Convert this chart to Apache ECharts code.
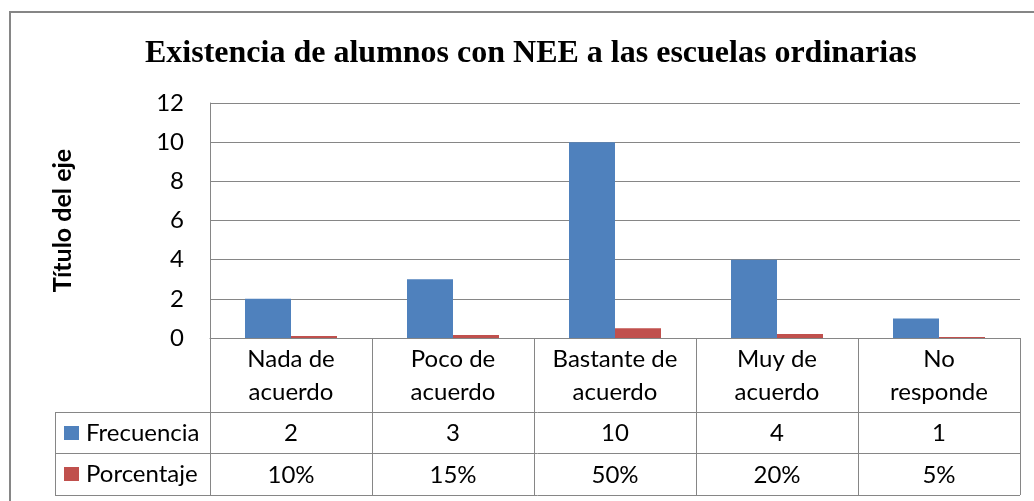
<!DOCTYPE html>
<html>
<head>
<meta charset="utf-8">
<script src="https://cdn.jsdelivr.net/npm/echarts@6/dist/echarts.min.js"></script>
<style>
    html, body {margin: 0; padding: 0; background: #fff;}
    #chart {width: 1034px; height: 501px;}
</style>
</head>
<body>
<div id="chart"></div>
<script>
var categories = ['Nada de\nacuerdo', 'Poco de\nacuerdo', 'Bastante de\nacuerdo', 'Muy de\nacuerdo', 'No\nresponde'];
var frecuencia = [2, 3, 10, 4, 1];
var porcentaje = [0.10, 0.15, 0.50, 0.20, 0.05];
var yTicks = [0, 2, 4, 6, 8, 10, 12];

var FONT = 'Lato';
var GRAY = '#868686';

// layout of plot + data table
var plotLeft = 210, plotRight = 1020, plotTop = 103, plotBottom = 338;
var tableLeft = 55, row1 = 412, row2 = 453, row3 = 495;

var myChart = echarts.init(document.getElementById('chart'));

function pct(v) {
    return Math.round(v * 100) + '%';
}

var option = {
    animation: false,
    backgroundColor: '#fff',
    title: {
        text: 'Existencia de alumnos con NEE a las escuelas ordinarias',
        left: 140,
        top: 33,
        textStyle: {fontFamily: 'Liberation Serif', fontWeight: 'bold', fontSize: 32, color: '#000'}
    },
    legend: {
        orient: 'vertical',
        left: 59,
        top: 416,
        itemWidth: 15,
        itemHeight: 14,
        itemGap: 17,
        icon: 'rect',
        selectedMode: false,
        textStyle: {fontFamily: FONT, fontSize: 24, color: '#000', padding: [0, 0, 0, 2]},
        data: ['Frecuencia', 'Porcentaje']
    },
    grid: {
        left: plotLeft,
        right: 1034 - plotRight,
        top: plotTop,
        bottom: 501 - plotBottom
    },
    xAxis: [
        {
            type: 'category',
            data: categories,
            axisLine: {lineStyle: {color: GRAY, width: 1}},
            axisTick: {show: true, length: row3 - plotBottom, lineStyle: {color: GRAY}},
            axisLabel: {
                interval: 0, margin: 5, lineHeight: 33,
                fontFamily: FONT, fontSize: 24, color: '#000'
            }
        },
        {
            type: 'category',
            data: categories,
            position: 'bottom',
            offset: row1 - plotBottom,
            axisLine: {show: false},
            axisTick: {show: false},
            axisLabel: {
                interval: 0, margin: 21, verticalAlign: 'middle',
                fontFamily: FONT, fontSize: 24, color: '#000',
                formatter: function (v, i) { return String(frecuencia[i]); }
            }
        },
        {
            type: 'category',
            data: categories,
            position: 'bottom',
            offset: row2 - plotBottom,
            axisLine: {show: false},
            axisTick: {show: false},
            axisLabel: {
                interval: 0, margin: 22, verticalAlign: 'middle',
                fontFamily: FONT, fontSize: 24, color: '#000',
                formatter: function (v, i) { return pct(porcentaje[i]); }
            }
        }
    ],
    yAxis: {
        type: 'value',
        min: yTicks[0],
        max: yTicks[yTicks.length - 1],
        interval: yTicks[1] - yTicks[0],
        name: 'Título del eje',
        nameLocation: 'middle',
        nameRotate: 90,
        nameGap: 135,
        nameTextStyle: {fontFamily: FONT, fontWeight: 'bold', fontSize: 25, color: '#000'},
        axisLine: {show: true, lineStyle: {color: GRAY}},
        axisTick: {show: false},
        axisLabel: {margin: 26, fontFamily: FONT, fontSize: 24, color: '#000'},
        splitLine: {lineStyle: {color: GRAY}}
    },
    series: [
        {
            name: 'Frecuencia',
            type: 'bar',
            data: frecuencia,
            barWidth: 46,
            barGap: '0%',
            itemStyle: {color: '#4F81BD'}
        },
        {
            name: 'Porcentaje',
            type: 'bar',
            data: porcentaje,
            barWidth: 46,
            barGap: '0%',
            itemStyle: {color: '#C0504D'}
        }
    ],
    graphic: [
        {type: 'rect', shape: {x: 10, y: 12, width: 1100, height: 600}, style: {fill: null, stroke: GRAY, lineWidth: 2}, silent: true},
        {type: 'line', shape: {x1: tableLeft, y1: row1 + 0.5, x2: plotRight, y2: row1 + 0.5}, style: {stroke: GRAY, lineWidth: 1}},
        {type: 'line', shape: {x1: tableLeft, y1: row2 + 0.5, x2: plotRight, y2: row2 + 0.5}, style: {stroke: GRAY, lineWidth: 1}},
        {type: 'line', shape: {x1: tableLeft, y1: row3 + 0.5, x2: plotRight, y2: row3 + 0.5}, style: {stroke: GRAY, lineWidth: 1}},
        {type: 'line', shape: {x1: tableLeft + 0.5, y1: row1, x2: tableLeft + 0.5, y2: row3}, style: {stroke: GRAY, lineWidth: 1}}
    ]
};

myChart.setOption(option);
</script>
</body>
</html>
